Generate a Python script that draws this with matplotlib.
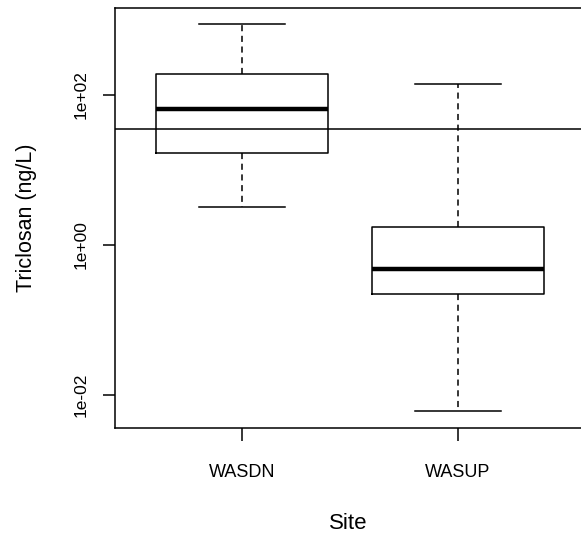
import numpy as np
import matplotlib.pyplot as plt

plt.rcParams['font.family'] = ['Liberation Sans', 'DejaVu Sans']

# boxplot summaries (ng/L)
sites = ['WASDN', 'WASUP']
whisker_low = [3.2, 0.0061]
q1 = [16.9, 0.222]
median = [65.0, 0.48]
q3 = [190.0, 1.74]
whisker_high = [885.0, 140.0]
threshold = 35.0

stats = []
for i, s in enumerate(sites):
    stats.append(dict(label=s, whislo=whisker_low[i], q1=q1[i], med=median[i],
                      q3=q3[i], whishi=whisker_high[i], fliers=[]))

fig = plt.figure(figsize=(5.81, 5.36), dpi=100)
ax = fig.add_axes([115 / 581, 1 - 428 / 536, 466 / 581, 420 / 536])

lw = 1.1
ax.bxp(stats, positions=[1, 2], widths=0.8, showfliers=False,
       boxprops=dict(color='black', linewidth=lw),
       medianprops=dict(color='black', linewidth=3.2),
       whiskerprops=dict(color='black', linewidth=lw, linestyle=(0, (4, 3))),
       capprops=dict(color='black', linewidth=lw),
       capwidths=0.4)

ax.axhline(threshold, color='black', linewidth=lw)

ax.set_yscale('log')
ax.set_ylim(10 ** -2.44, 10 ** 3.16)
ax.set_xlim(0.412, 0.412 + 466 / 216)
ax.set_yticks([1e-2, 1e0, 1e2])
ax.set_yticklabels(['1e-02', '1e+00', '1e+02'], rotation=90, va='center')
ax.yaxis.set_minor_locator(plt.NullLocator())
ax.set_xticks([1, 2])
ax.set_xticklabels(sites)

for sp in ax.spines.values():
    sp.set_linewidth(lw)
ax.spines['right'].set_visible(False)

ax.tick_params(axis='x', length=9, width=lw, pad=17, labelsize=13)
ax.tick_params(axis='y', length=9, width=lw, pad=10, labelsize=12.5)

ax.set_xlabel('Site', fontsize=16, labelpad=23)
ax.set_ylabel('Triclosan (ng/L)', fontsize=15.5, labelpad=26)

fig.savefig('out.png', dpi=100)
